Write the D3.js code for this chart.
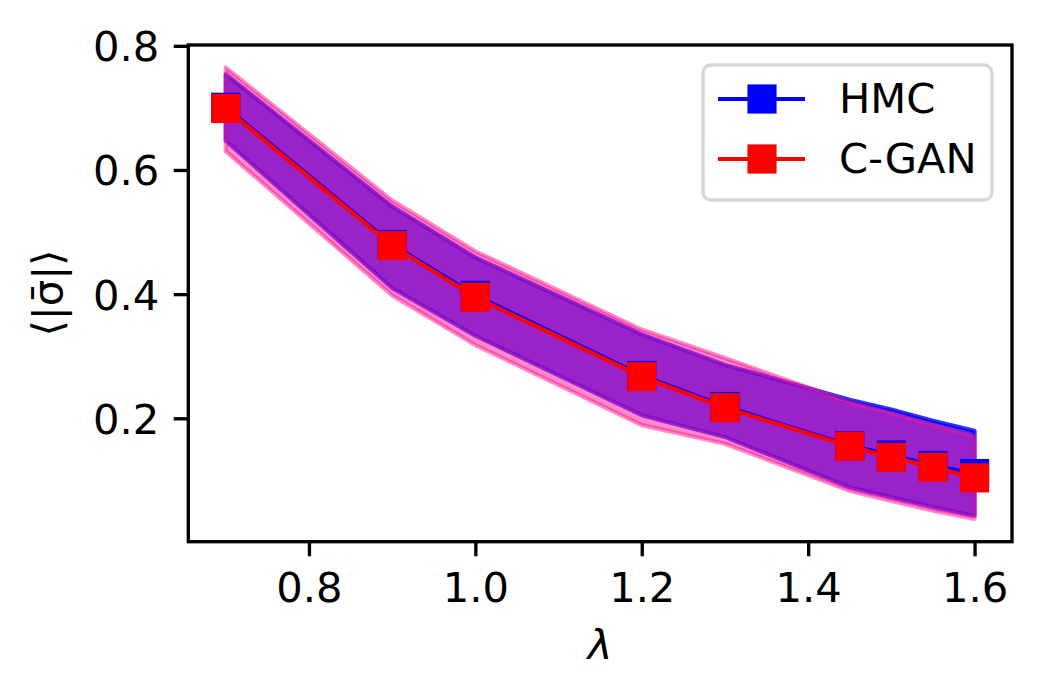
<!DOCTYPE html>
<html><head><meta charset="utf-8">
<script src="https://cdn.jsdelivr.net/npm/d3@7/dist/d3.min.js"></script>
<style>body{margin:0;background:#fff} text{font-family:"DejaVu Sans",sans-serif}</style>
</head><body>
<svg id="c" width="1041" height="697"></svg>
<script>
// ---- data ----
const lambdas   = [0.7, 0.9, 1.0, 1.2, 1.3, 1.45, 1.5, 1.55, 1.6];
const hmcMean   = [0.701, 0.480, 0.398, 0.269, 0.219, 0.156, 0.141, 0.124, 0.111];
const hmcLow    = [0.647, 0.410, 0.333, 0.205, 0.170, 0.089, 0.073, 0.057, 0.043];
const hmcHigh   = [0.754, 0.541, 0.459, 0.335, 0.286, 0.230, 0.214, 0.196, 0.180];
const cganMean  = [0.699, 0.478, 0.395, 0.267, 0.217, 0.155, 0.137, 0.121, 0.104];
const cganLow   = [0.630, 0.398, 0.318, 0.189, 0.159, 0.083, 0.067, 0.051, 0.038];
const cganHigh  = [0.765, 0.551, 0.469, 0.343, 0.297, 0.226, 0.208, 0.189, 0.171];
const xTicks    = [0.8, 1.0, 1.2, 1.4, 1.6];
const yTicks    = [0.2, 0.4, 0.6, 0.8];
const seriesNames = ["HMC", "C-GAN"];

// ---- layout ----
const L = 188.3, R = 1012, T = 45, B = 541.7;
const PT = 300/72;           // px per pt
const FS = 10*PT;            // 41.67 px
const svg = d3.select("#c");
const x = d3.scaleLinear().domain([0.655, 1.645]).range([L, R]);
const y = d3.scaleLinear().domain([0.0012, 0.8013]).range([B, T]);

const idx = lambdas.map((d,i)=>i);
const band = (lo, hi) => d3.area().x(i=>x(lambdas[i])).y0(i=>y(lo[i])).y1(i=>y(hi[i]));
const line = (m) => d3.line().x(i=>x(lambdas[i])).y(i=>y(m[i]));

// bands
svg.append("path").attr("d", band(hmcLow, hmcHigh)(idx))
  .attr("fill","#0000ff").attr("fill-opacity",0.8)
  .attr("stroke","#0000ff").attr("stroke-opacity",0.8).attr("stroke-width",PT).attr("stroke-linejoin","round");
svg.append("path").attr("d", band(cganLow, cganHigh)(idx))
  .attr("fill","#ff1493").attr("fill-opacity",0.5)
  .attr("stroke","#ff1493").attr("stroke-opacity",0.5).attr("stroke-width",PT).attr("stroke-linejoin","round");

// lines + markers
const MS = 6*PT + PT;
[[hmcMean,"#0000ff"],[cganMean,"#ff0000"]].forEach(([m,c])=>{
  svg.append("path").attr("d", line(m)(idx)).attr("fill","none")
    .attr("stroke",c).attr("stroke-width",PT).attr("stroke-linejoin","round");
  svg.append("g").selectAll("rect").data(idx).join("rect")
    .attr("x", i=>x(lambdas[i])-MS/2).attr("y", i=>y(m[i])-MS/2)
    .attr("width",MS).attr("height",MS).attr("fill",c);
});

// axes
const TL = 3.5*PT, AW = 0.8*PT;
const xa = svg.append("g").attr("transform",`translate(0,${B})`)
  .call(d3.axisBottom(x).tickValues(xTicks).tickFormat(d3.format(".1f")).tickSize(TL).tickPadding(16));
const ya = svg.append("g").attr("transform",`translate(${L},0)`)
  .call(d3.axisLeft(y).tickValues(yTicks).tickFormat(d3.format(".1f")).tickSize(TL).tickPadding(TL));
[xa,ya].forEach(a=>{
  a.select(".domain").remove();
  a.selectAll(".tick line").attr("stroke","#000").attr("stroke-width",AW);
  a.selectAll(".tick text").attr("fill","#000").style("font-size",FS+"px").style("font-family","DejaVu Sans");
});
ya.selectAll(".tick text").attr("dy","0.36em");

svg.append("rect").attr("x",L).attr("y",T).attr("width",R-L).attr("height",B-T)
  .attr("fill","none").attr("stroke","#000").attr("stroke-width",AW);

// axis labels
svg.append("text").attr("x",(L+R)/2).attr("y",659).attr("text-anchor","middle")
  .style("font-size",FS+"px").style("font-style","italic").text("λ");
svg.append("text").attr("transform","translate(62,293) rotate(-90)").attr("text-anchor","middle")
  .style("font-size",FS+"px").text("⟨|σ\u0304|⟩");

// legend
const lg = svg.append("g");
lg.append("rect").attr("x",703).attr("y",65).attr("width",289).attr("height",135).attr("rx",8)
  .attr("fill","#fff").attr("fill-opacity",0.8).attr("stroke","#d6d6d6").attr("stroke-width",AW);
[["#0000ff",99,113],["#ff0000",159,173]].forEach(([c,yy,by],k)=>{
  lg.append("line").attr("x1",718).attr("x2",805).attr("y1",yy).attr("y2",yy)
    .attr("stroke",c).attr("stroke-width",PT);
  lg.append("rect").attr("x",762-MS/2).attr("y",yy-MS/2).attr("width",MS).attr("height",MS).attr("fill",c);
  lg.append("text").attr("x",839).attr("y",by).style("font-size",FS+"px").text(seriesNames[k]);
});
</script>
</body></html>
